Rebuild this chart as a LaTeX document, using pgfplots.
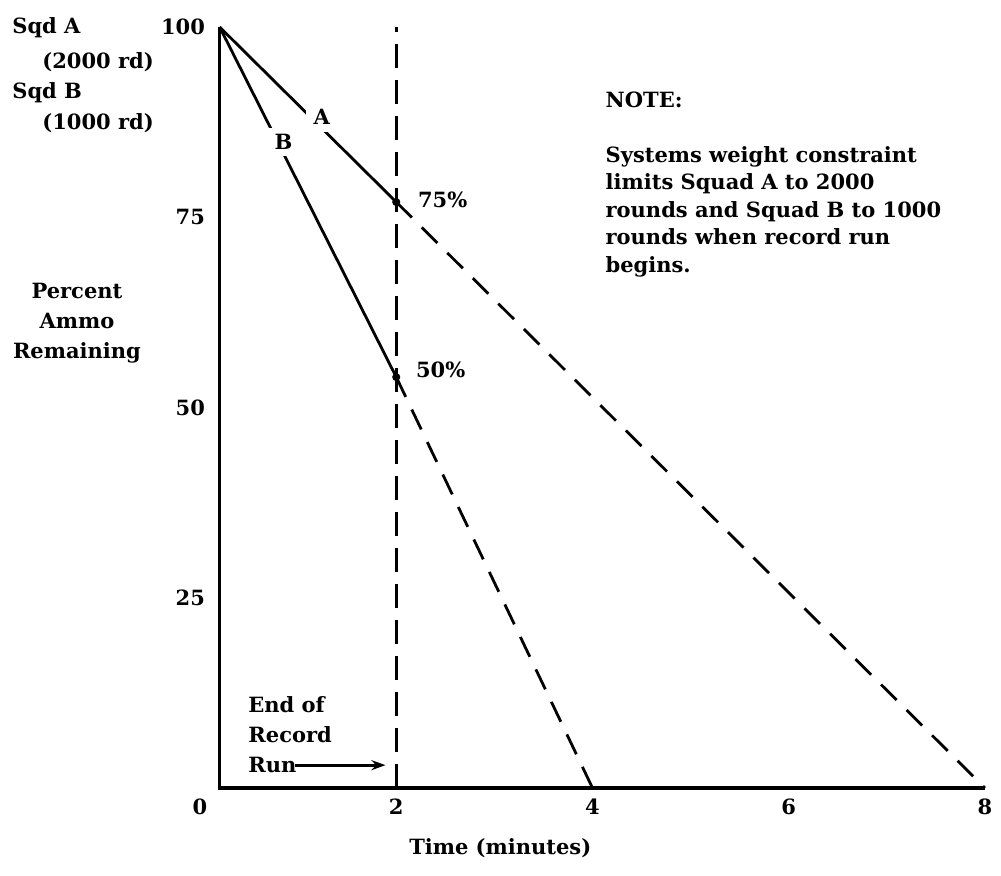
\documentclass[border=0pt]{standalone}
\usepackage{fontspec}
\setmainfont{DejaVu Serif}
\usepackage{pgfplots}
\pgfplotsset{compat=1.18}
\usetikzlibrary{arrows.meta}

\begin{document}
\begin{tikzpicture}[font=\bfseries\fontsize{10.5}{13.75}\selectfont]
% page size: 1px of the reference = 0.5pt
\path[use as bounding box] (-100pt,-44pt) rectangle (400.5pt,394pt);
\begin{axis}[
  at={(0,0)}, anchor=south west,
  scale only axis, width=392.5pt, height=380.5pt,
  xmin=0, xmax=8, ymin=0, ymax=100,
  clip=false,
  axis line style={draw=none},
  major tick length=0pt,
  xtick={0,2,4,6,8}, ytick={25,50,75,100},
  /pgf/number format/assume math mode=true,
  ticklabel style={font=\bfseries\fontsize{10.5}{12}\selectfont},
  xticklabel style={yshift=-2pt},
  yticklabel style={xshift=6pt},
]
% axes as drawn (y axis sits a little right of 0)
\addplot[black, line width=1.8pt] coordinates {(0.2,100)(0.2,0)(8,0)};
% end of record run
\addplot[black, line width=1.5pt, dash pattern=on 12pt off 6pt] coordinates {(2,0)(2,100)};
% squads during the run
\addplot[black, line width=1.4pt] coordinates {(0.2,100)(2,77)};
\addplot[black, line width=1.4pt] coordinates {(0.2,100)(2,54)};
% projected after the run
\addplot[black, line width=1.4pt, dash pattern=on 11pt off 7pt] coordinates {(2,77)(8,0)};
\addplot[black, line width=1.4pt, dash pattern=on 11pt off 7pt] coordinates {(2,54)(4,0)};
\addplot[only marks, mark=*, mark size=1.8pt, black] coordinates {(2,77)(2,54)};

\node[fill=white, inner sep=4pt] at (axis cs:1.24,88.2) {A};
\node[fill=white, inner sep=3pt] at (axis cs:0.85,84.9) {B};
\node[anchor=west] at (axis cs:2.15,77.3) {75\%};
\node[anchor=west] at (axis cs:2.13,54.9) {50\%};

\node[anchor=west, inner sep=0] at (axis cs:-1.916,99.9) {Sqd A};
\node[anchor=west, inner sep=0] at (axis cs:-1.61,95.4) {(2000 rd)};
\node[anchor=west, inner sep=0] at (axis cs:-1.916,91.3) {Sqd B};
\node[anchor=west, inner sep=0] at (axis cs:-1.61,87.4) {(1000 rd)};

\node[align=center, inner sep=0, font=\bfseries\fontsize{10.5}{15}\selectfont]
  at (axis cs:-1.254,61.1) {Percent\\Ammo\\Remaining};

\node[anchor=west, inner sep=0] at (axis cs:4.13,90.4) {NOTE:};
\node[anchor=north west, align=left, inner sep=0] at (axis cs:4.13,84.4)
  {Systems weight constraint\\limits Squad A to 2000\\rounds and Squad B to 1000\\rounds when record run\\begins.};

\node[anchor=west, inner sep=0, align=left, font=\bfseries\fontsize{10.5}{15}\selectfont]
  at (axis cs:0.49,7.0) {End of\\Record\\Run};
\draw[-{Stealth[length=7pt,width=5pt]}, line width=1.4pt] (axis cs:0.97,3.0) -- (axis cs:1.89,3.0);

\node at (axis cs:3.06,-7.9) {Time (minutes)};
\end{axis}
\end{tikzpicture}
\end{document}
